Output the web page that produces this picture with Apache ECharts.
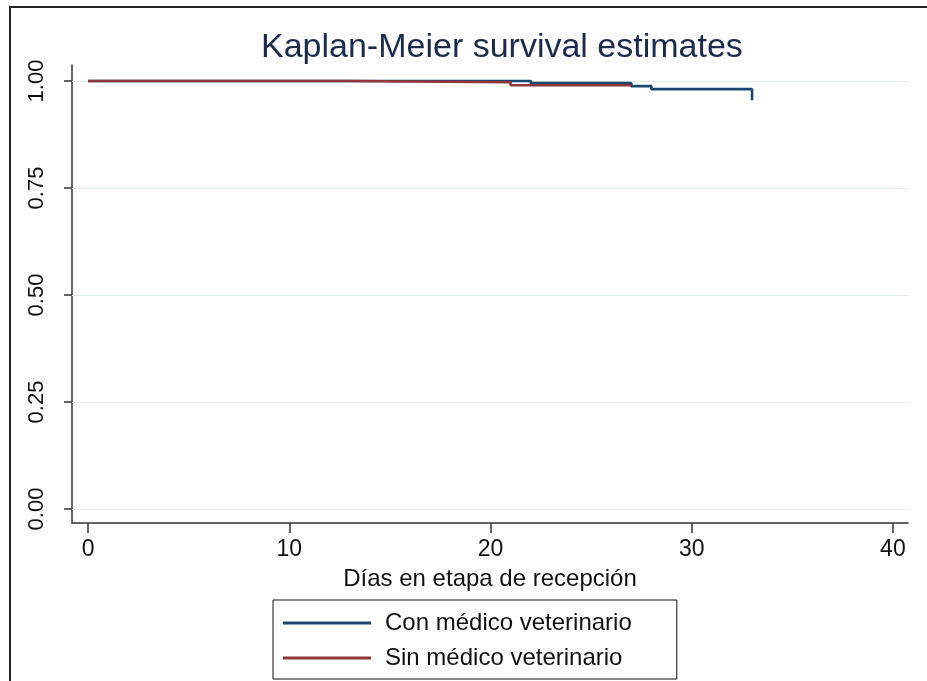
<!DOCTYPE html>
<html>
<head>
<meta charset="utf-8">
<script src="https://cdn.jsdelivr.net/npm/echarts@6/dist/echarts.min.js"></script>
<style>
  html, body { margin: 0; padding: 0; background: #fff; }
  #frame { position: absolute; left: 9px; top: 6px; width: 918px; height: 675px;
           border-left: 2px solid #222; border-top: 2px solid #222; box-sizing: border-box; }
  #chart { position: absolute; left: 0; top: 0; width: 927px; height: 681px; }
</style>
</head>
<body>
<div id="frame"></div>
<div id="chart"></div>
<script>
// Kaplan-Meier step data: [day, survival estimate]
const conVet = [[0, 1.0], [22, 0.995], [27, 0.988], [28, 0.981], [33, 0.955]];
const sinVet = [[0, 1.0], [13, 0.997], [21, 0.990], [27, 0.990]];
const seriesNames = ['Con médico veterinario', 'Sin médico veterinario'];
const xTicks = [0, 10, 20, 30, 40];
const yTicks = [0, 0.25, 0.5, 0.75, 1.0];

const font = 'Liberation Sans, Arial, Helvetica, sans-serif';
const chart = echarts.init(document.getElementById('chart'), null, { renderer: 'canvas' });

chart.setOption({
  backgroundColor: 'transparent',
  animation: false,
  title: {
    text: 'Kaplan-Meier survival estimates',
    left: 256,
    top: 26,
    textStyle: { fontFamily: font, fontSize: 34, fontWeight: 'normal', color: '#1c2a4e' }
  },
  legend: {
    orient: 'vertical',
    left: 273,
    top: 600,
    padding: [11, 45, 9, 10],
    itemGap: 11,
    itemWidth: 88,
    itemHeight: 3,
    icon: 'rect',
    borderColor: '#111',
    borderWidth: 1,
    textStyle: { fontFamily: font, fontSize: 24, color: '#111', lineHeight: 24, padding: [0, 0, 0, 9] },
    data: seriesNames
  },
  grid: { left: 72, right: 19, top: 65, bottom: 158, containLabel: false },
  xAxis: {
    type: 'value',
    min: -0.8,
    max: 40.75,
    name: 'Días en etapa de recepción',
    nameLocation: 'middle',
    nameGap: 44,
    nameTextStyle: { fontFamily: font, fontSize: 24, color: '#111' },
    axisLine: { show: true, onZero: false, lineStyle: { color: '#333', width: 1.5 } },
    axisTick: { show: true, length: 10, customValues: xTicks, lineStyle: { color: '#333', width: 1.5 } },
    axisLabel: { customValues: xTicks, margin: 15, fontFamily: font, fontSize: 23, color: '#111' },
    splitLine: { show: false }
  },
  yAxis: {
    type: 'value',
    min: -0.0327,
    max: 1.0374,
    axisLine: { show: true, onZero: false, lineStyle: { color: '#333', width: 1.5 } },
    axisTick: { show: true, length: 8, customValues: yTicks, lineStyle: { color: '#333', width: 1.5 } },
    axisLabel: {
      customValues: yTicks, rotate: 90, margin: 24, fontFamily: font, fontSize: 22, color: '#111',
      formatter: v => v.toFixed(2)
    },
    splitLine: { show: false }
  },
  series: [
    {
      name: seriesNames[0],
      type: 'line',
      step: 'end',
      data: conVet,
      symbol: 'none',
      z: 2,
      lineStyle: { color: '#1a476f', width: 2.6 },
      itemStyle: { color: '#1a476f' },
      markLine: {
        silent: true,
        symbol: 'none',
        label: { show: false },
        z: 1,
        lineStyle: { color: '#e2ebee', width: 1.2, type: 'solid' },
        data: yTicks.map(v => ({ yAxis: v }))
      }
    },
    {
      name: seriesNames[1],
      type: 'line',
      step: 'end',
      data: sinVet,
      symbol: 'none',
      z: 3,
      lineStyle: { color: '#90353b', width: 2.6 },
      itemStyle: { color: '#90353b' }
    }
  ]
});
</script>
</body>
</html>
